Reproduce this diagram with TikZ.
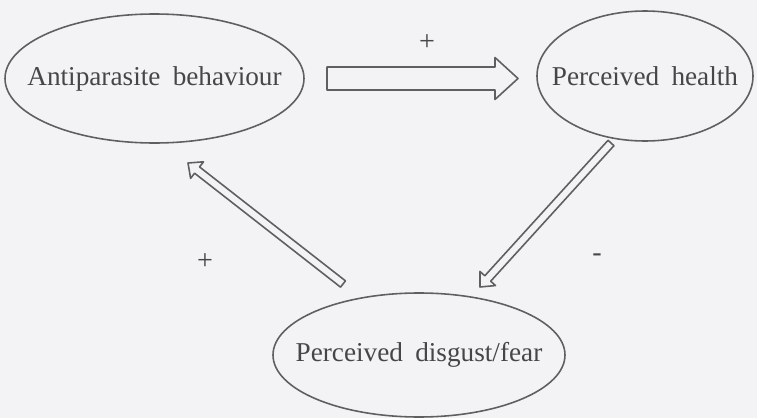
\documentclass[tikz,border=0pt]{standalone}
\usepackage{fontspec}
\setmainfont{Liberation Serif}
\usepackage{xcolor}
\usetikzlibrary{shapes.geometric,calc}

\definecolor{paper}{RGB}{243,243,246}
\definecolor{ink}{RGB}{95,95,95}
\definecolor{txt}{RGB}{70,70,70}

% text that does not widen its ellipse
\newcommand{\factortext}[1]{\makebox[0pt]{\spaceskip=0.45em\relax #1}}

\tikzset{
  factor/.style={draw=ink, line width=0.9pt, ellipse, inner sep=0pt,
    text=txt, font=\fontsize{15.5}{18}\selectfont},
  sign/.style={text=txt, font=\fontsize{16}{18}\selectfont},
  hollow/.style={draw=ink, line width=0.9pt, line join=round}
}

% hollow block arrow: from, to, half body, half head, head length
\newcommand{\hollowarr}[5]{%
  \coordinate (hb) at ($(#2)!#5!(#1)$);
  \draw[hollow] ($(#1)!#3!90:(#2)$) -- ($(hb)!#3!-90:(#1)$)
    -- ($(hb)!#4!-90:(#1)$) -- (#2) -- ($(hb)!#4!90:(#1)$)
    -- ($(hb)!#3!90:(#1)$) -- ($(#1)!#3!-90:(#2)$) -- cycle;
}

\begin{document}
\begin{tikzpicture}
\fill[paper] (0,0) rectangle (15.14,8.36);
\useasboundingbox (0,0) rectangle (15.14,8.36);

\node[factor, minimum width=5.98cm, minimum height=2.58cm] (anti) at (3.09,6.79) {\factortext{Antiparasite behaviour}};
\node[factor, minimum width=4.32cm, minimum height=2.6cm] (health) at (12.9,6.84) {\factortext{Perceived health}};
\node[factor, minimum width=5.84cm, minimum height=2.48cm] (fear) at (8.38,1.26) {\factortext{Perceived disgust/fear}};

\coordinate (a1s) at (6.54,6.79);
\coordinate (a1e) at (10.36,6.79);
\coordinate (a2s) at (12.22,5.5);
\coordinate (a2e) at (9.6,2.62);
\coordinate (a3s) at (6.86,2.68);
\coordinate (a3e) at (3.76,5.1);

\hollowarr{a1s}{a1e}{0.23cm}{0.42cm}{0.46cm}
\hollowarr{a2s}{a2e}{0.08cm}{0.21cm}{0.23cm}
\hollowarr{a3s}{a3e}{0.08cm}{0.21cm}{0.23cm}

\node[sign] (s1) at (8.54,7.5) {+};
\node[sign] (s2) at (4.1,3.12) {+};
\node[sign] (s3) at (11.94,3.2) {-};

\end{tikzpicture}
\end{document}
